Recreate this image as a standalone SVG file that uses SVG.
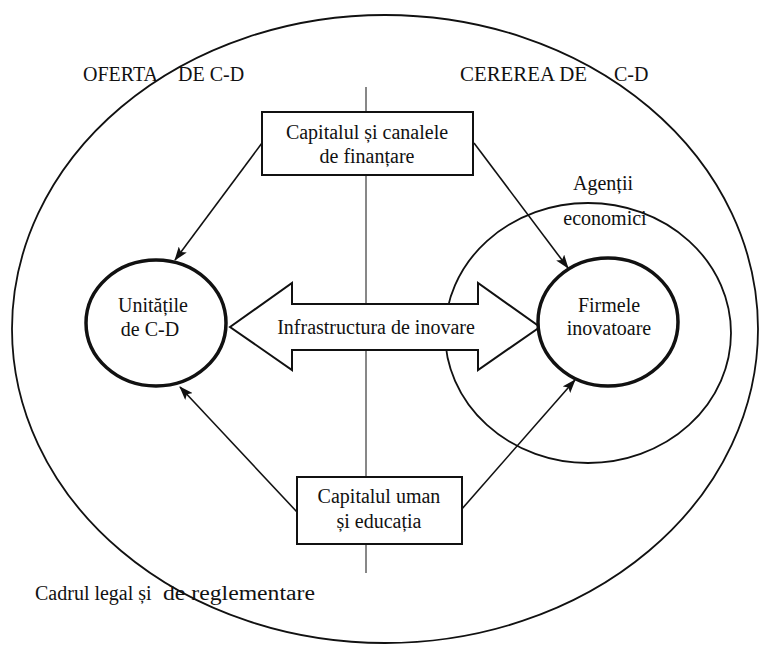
<svg xmlns="http://www.w3.org/2000/svg" width="759" height="645" viewBox="0 0 759 645">
<style>
text{font-family:"Liberation Serif","Times New Roman",serif;font-size:20px;fill:#111}
.c{text-anchor:middle}
.thin{fill:none;stroke:#111;stroke-width:1.8}
.node{fill:#fff;stroke:#111;stroke-width:3.5}
.box{fill:#fff;stroke:#111;stroke-width:2}
.conn{stroke:#111;stroke-width:1.6;fill:none;marker-end:url(#ah)}
</style>
<defs>
<marker id="ah" viewBox="0 0 14 10" refX="13" refY="5" markerWidth="14" markerHeight="10" markerUnits="userSpaceOnUse" orient="auto">
<path d="M0,0 L14,5 L0,10 L3,5 Z" fill="#111"/>
</marker>
</defs>
<rect width="759" height="645" fill="#fff"/>
<g id="frame">
<ellipse class="thin" cx="385" cy="329" rx="373" ry="314"/>
<line x1="366" y1="87" x2="366" y2="573" stroke="#111" stroke-width="1"/>
</g>
<g id="agenti">
<ellipse class="thin" cx="588" cy="333" rx="143" ry="130" stroke-width="1.5"/>
<text class="c" x="603" y="190">Agenții</text>
<text class="c" x="605" y="225">economici</text>
</g>
<g id="labels">
<text x="83" y="81" font-size="19">OFERTA<tspan x="178">DE C-D</tspan></text>
<text x="460" y="81" font-size="19"><tspan textLength="127" lengthAdjust="spacingAndGlyphs">CEREREA DE</tspan><tspan x="614">C-D</tspan></text>
<text x="35" y="600" font-size="20">Cadrul legal și<tspan x="163" textLength="152" lengthAdjust="spacingAndGlyphs">de reglementare</tspan></text>
</g>
<g id="connectors">
<line class="conn" x1="262" y1="143" x2="175" y2="260"/>
<line class="conn" x1="474" y1="143" x2="568" y2="268"/>
<line class="conn" x1="297" y1="512" x2="180" y2="387"/>
<line class="conn" x1="461" y1="510" x2="575" y2="380"/>
</g>
<g id="infrastructura">
<polygon points="230,327 292,283 292,304 478,304 478,283 540,327 478,370 478,350 292,350 292,370" fill="#fff" stroke="#111" stroke-width="2"/>
<text class="c" x="376" y="334">Infrastructura de inovare</text>
</g>
<g id="capital-finantare">
<rect class="box" x="262" y="112" width="211" height="63"/>
<text class="c" x="367" y="139">Capitalul și canalele</text>
<text class="c" x="367" y="163">de finanțare</text>
</g>
<g id="capital-uman">
<rect class="box" x="297" y="477" width="165" height="67"/>
<text class="c" x="379" y="503">Capitalul uman</text>
<text class="c" x="379" y="528">și educația</text>
</g>
<g id="unitati">
<ellipse class="node" cx="156" cy="323" rx="70" ry="63"/>
<text class="c" x="153" y="312">Unitățile</text>
<text class="c" x="150" y="336">de C-D</text>
</g>
<g id="firme">
<ellipse class="node" cx="608" cy="322" rx="70" ry="64"/>
<text class="c" x="609" y="312">Firmele</text>
<text class="c" x="609" y="335">inovatoare</text>
</g>
</svg>
